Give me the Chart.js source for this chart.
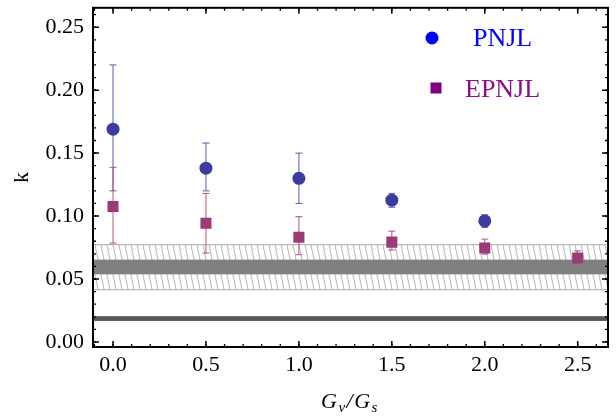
<!DOCTYPE html>
<html>
<head>
<meta charset="utf-8">
<script src="https://cdn.jsdelivr.net/npm/chart.js@4"></script>
<style>
  body { margin: 0; background: #fff; }
</style>
</head>
<body>
<canvas id="myChart" width="616" height="416"></canvas>
<script>
const xTicks = [0, 0.5, 1, 1.5, 2, 2.5];
const yTicks = [0, 0.05, 0.1, 0.15, 0.2, 0.25];

const pnjlX = [0, 0.5, 1, 1.5, 2];
const pnjlK = [0.169, 0.138, 0.130, 0.1126, 0.0961];
const pnjlHigh = [0.220, 0.158, 0.150, 0.118, 0.101];
const pnjlLow = [0.120, 0.120, 0.110, 0.107, 0.091];

const epnjlX = [0, 0.5, 1, 1.5, 2, 2.5];
const epnjlK = [0.1076, 0.0942, 0.0832, 0.0793, 0.0746, 0.0667];
const epnjlHigh = [0.1387, 0.118, 0.0995, 0.088, 0.0817, 0.0724];
const epnjlLow = [0.0785, 0.0706, 0.0693, 0.073, 0.0698, 0.0625];

// horizontal bands (k ranges)
const hatchBand = [0.0415, 0.0773];
const greyBand = [0.0537, 0.0654];
const lowBand = [0.0167, 0.0205];

const serif = "'Liberation Serif', 'Times New Roman', serif";

function toPoints(xs, ys) {
  return xs.map((x, i) => ({ x: x, y: ys[i] }));
}

const bandsPlugin = {
  id: 'bands',
  beforeDatasetsDraw(chart) {
    const { ctx, chartArea: a, scales: { y } } = chart;
    ctx.save();
    ctx.beginPath();
    ctx.rect(a.left, a.top, a.right - a.left, a.bottom - a.top);
    ctx.clip();

    const hTop = y.getPixelForValue(hatchBand[1]);
    const hBot = y.getPixelForValue(hatchBand[0]);
    const slant = (hBot - hTop) * 0.2;
    ctx.strokeStyle = '#a3a3a3';
    ctx.lineWidth = 0.8;
    ctx.beginPath();
    for (let x = a.left - 10; x < a.right + 10; x += 6) {
      ctx.moveTo(x, hTop);
      ctx.lineTo(x + slant, hBot);
    }
    ctx.stroke();
    ctx.strokeStyle = '#b8b8b8';
    ctx.lineWidth = 1.2;
    ctx.beginPath();
    ctx.moveTo(a.left, hTop); ctx.lineTo(a.right, hTop);
    ctx.moveTo(a.left, hBot); ctx.lineTo(a.right, hBot);
    ctx.stroke();

    const gTop = y.getPixelForValue(greyBand[1]);
    const gBot = y.getPixelForValue(greyBand[0]);
    ctx.fillStyle = '#808080';
    ctx.fillRect(a.left, gTop, a.right - a.left, gBot - gTop);

    const lTop = y.getPixelForValue(lowBand[1]);
    const lBot = y.getPixelForValue(lowBand[0]);
    ctx.fillStyle = '#575757';
    ctx.fillRect(a.left, lTop, a.right - a.left, lBot - lTop);
    ctx.restore();

    // error bars
    chart.data.datasets.forEach(ds => {
      ctx.save();
      ctx.strokeStyle = ds.errColor;
      ctx.lineWidth = 1;
      ctx.beginPath();
      ds.data.forEach((p, i) => {
        const px = chart.scales.x.getPixelForValue(p.x);
        const hi = y.getPixelForValue(ds.errHigh[i]);
        const lo = y.getPixelForValue(ds.errLow[i]);
        ctx.moveTo(px, hi); ctx.lineTo(px, lo);
        ctx.moveTo(px - 3.5, hi); ctx.lineTo(px + 3.5, hi);
        ctx.moveTo(px - 3.5, lo); ctx.lineTo(px + 3.5, lo);
      });
      ctx.stroke();
      ctx.restore();
    });
  }
};

const framePlugin = {
  id: 'frame',
  afterDraw(chart) {
    const { ctx, chartArea: a, scales: { x, y } } = chart;
    ctx.save();
    ctx.strokeStyle = '#000';

    function minorValues(majors, parts, min, max) {
      const step = (majors[1] - majors[0]) / parts;
      const out = [];
      for (let v = majors[0] - step * parts * 2; v <= max; v += step) {
        if (v >= min) out.push(v);
      }
      return out;
    }

    ctx.lineWidth = 1.3;
    ctx.beginPath();
    minorValues(xTicks, 5, x.min, x.max).forEach(v => {
      const px = x.getPixelForValue(v);
      ctx.moveTo(px, a.bottom); ctx.lineTo(px, a.bottom - 3);
      ctx.moveTo(px, a.top); ctx.lineTo(px, a.top + 3);
    });
    minorValues(yTicks, 5, y.min, y.max).forEach(v => {
      const py = y.getPixelForValue(v);
      ctx.moveTo(a.left, py); ctx.lineTo(a.left + 3, py);
      ctx.moveTo(a.right, py); ctx.lineTo(a.right - 3, py);
    });
    ctx.stroke();

    ctx.lineWidth = 1.5;
    ctx.beginPath();
    xTicks.forEach(v => {
      const px = x.getPixelForValue(v);
      ctx.moveTo(px, a.bottom); ctx.lineTo(px, a.bottom - 6);
      ctx.moveTo(px, a.top); ctx.lineTo(px, a.top + 6);
    });
    yTicks.forEach(v => {
      const py = y.getPixelForValue(v);
      ctx.moveTo(a.left, py); ctx.lineTo(a.left + 6, py);
      ctx.moveTo(a.right, py); ctx.lineTo(a.right - 6, py);
    });
    ctx.stroke();

    ctx.lineWidth = 2;
    ctx.strokeRect(a.left, a.top, a.right - a.left, a.bottom - a.top);

    // x axis title G_v/G_s
    const big = 'italic 22px ' + serif;
    const small = 'italic 15px ' + serif;
    const parts = [['G', big, 0], ['v', small, 4], ['/', big, 0], ['G', big, 0], ['s', small, 4]];
    let total = 0;
    parts.forEach(p => { ctx.font = p[1]; total += ctx.measureText(p[0]).width + 1.5; });
    let tx = 350 - total / 2;
    ctx.fillStyle = '#000';
    ctx.textBaseline = 'alphabetic';
    parts.forEach(p => {
      ctx.font = p[1];
      ctx.fillText(p[0], tx, 408 + p[2]);
      tx += ctx.measureText(p[0]).width + 1.5;
    });

    // legend
    const legend = chart.data.datasets;
    ctx.font = '26px ' + serif;
    ctx.fillStyle = '#0000ff';
    ctx.beginPath();
    ctx.arc(432, 38, 6.5, 0, Math.PI * 2);
    ctx.fill();
    ctx.fillText(legend[0].label, 473, 46);
    ctx.fillStyle = '#800080';
    ctx.fillRect(430.5, 82.5, 11, 11);
    ctx.fillStyle = '#8b0f8b';
    ctx.fillText(legend[1].label, 465, 97);
    ctx.restore();
  }
};

const chart = new Chart(document.getElementById('myChart'), {
  type: 'scatter',
  data: {
    datasets: [{
      label: 'PNJL',
      data: toPoints(pnjlX, pnjlK),
      errHigh: pnjlHigh,
      errLow: pnjlLow,
      errColor: '#5a5ab4',
      pointStyle: 'circle',
      pointRadius: 6.5,
      backgroundColor: '#3c3ca0',
      borderWidth: 0
    }, {
      label: 'EPNJL',
      data: toPoints(epnjlX, epnjlK),
      errHigh: epnjlHigh,
      errLow: epnjlLow,
      errColor: '#b4508a',
      pointStyle: 'rect',
      pointRadius: 7.8,
      backgroundColor: '#9b3a74',
      borderWidth: 0
    }]
  },
  options: {
    responsive: false,
    animation: false,
    devicePixelRatio: 1,
    events: [],
    layout: { padding: { top: 5, right: 8, left: 0, bottom: 0 } },
    plugins: {
      legend: { display: false },
      tooltip: { enabled: false }
    },
    scales: {
      x: {
        type: 'linear',
        min: -0.1077,
        max: 2.663,
        afterBuildTicks: s => { s.ticks = xTicks.map(v => ({ value: v })); },
        afterFit: s => { s.height = 69; s.paddingLeft = 0; s.paddingRight = 0; },
        grid: { display: false, drawTicks: false },
        border: { display: false },
        ticks: {
          font: { family: serif, size: 22 },
          color: '#000',
          padding: 5,
          maxRotation: 0,
          autoSkip: false,
          callback: v => v.toFixed(1)
        }
      },
      y: {
        type: 'linear',
        min: -0.004,
        max: 0.2654,
        afterBuildTicks: s => { s.ticks = yTicks.map(v => ({ value: v })); },
        afterFit: s => { s.width = 93; s.paddingTop = 0; s.paddingBottom = 0; },
        grid: { display: false, drawTicks: false },
        border: { display: false },
        title: {
          display: true,
          text: 'k',
          font: { family: serif, size: 22 },
          color: '#000',
          padding: { top: 9, bottom: 0 }
        },
        ticks: {
          font: { family: serif, size: 22 },
          color: '#000',
          padding: 9,
          autoSkip: false,
          callback: v => v.toFixed(2)
        }
      }
    }
  },
  plugins: [bandsPlugin, framePlugin]
});
</script>
</body>
</html>
